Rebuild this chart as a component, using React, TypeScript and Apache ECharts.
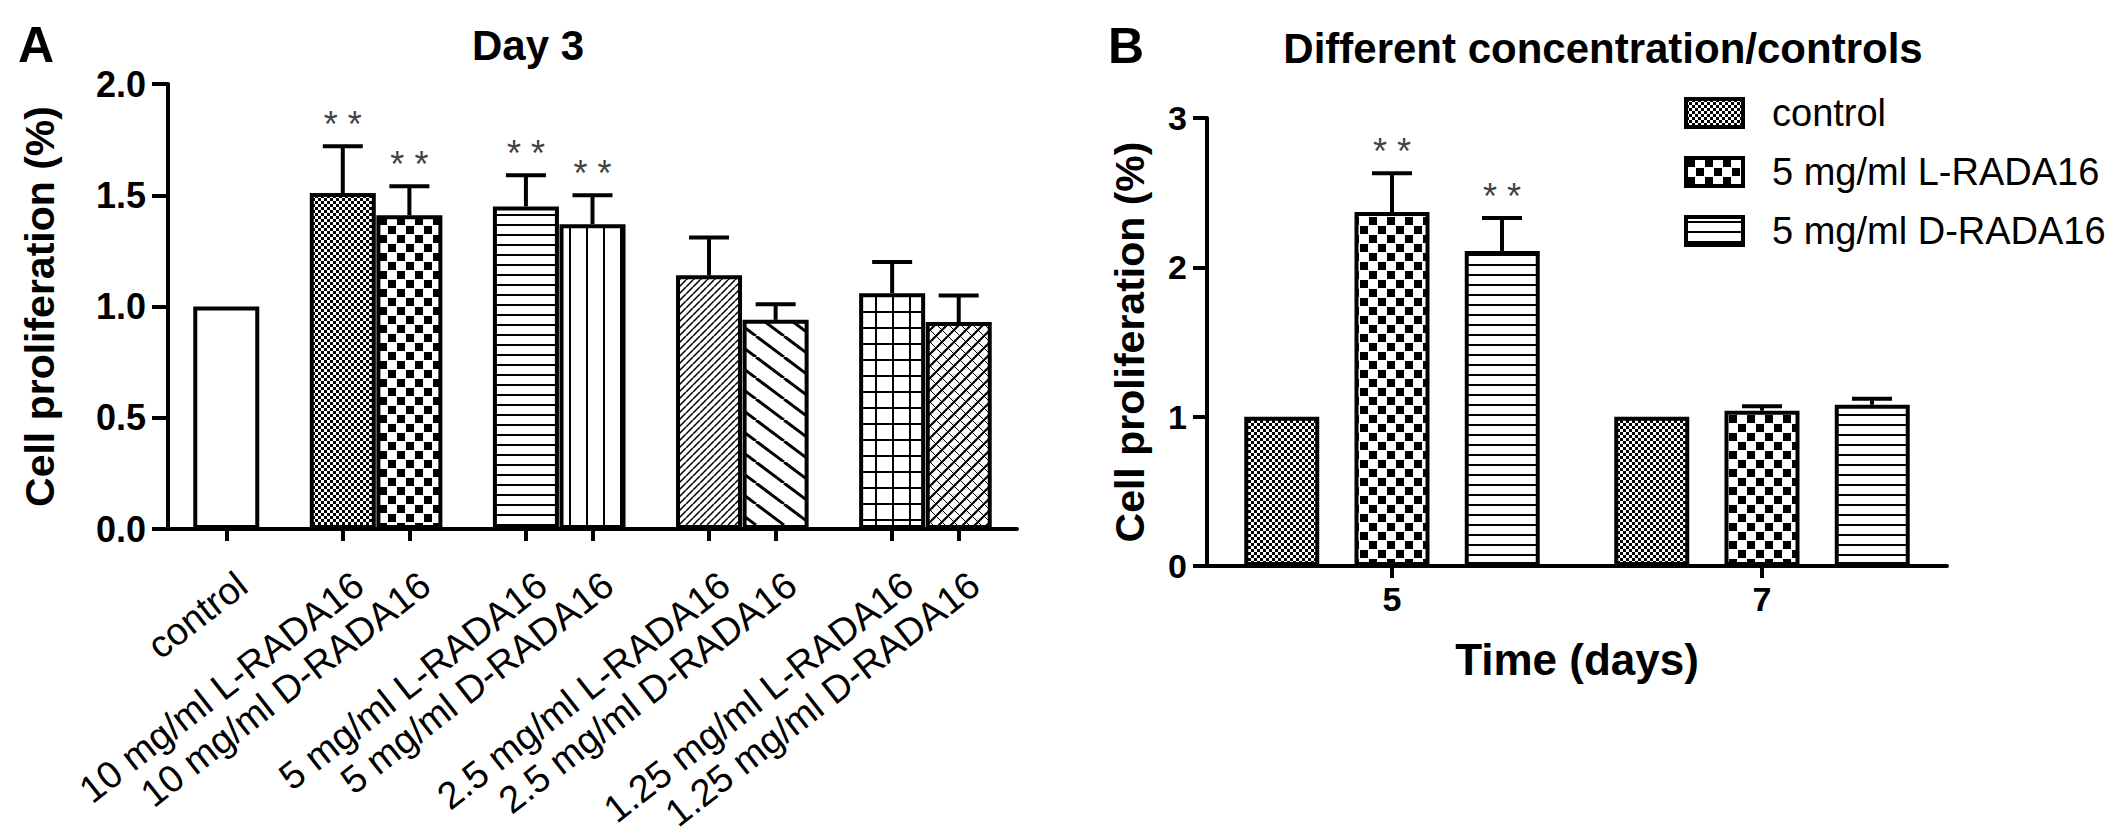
import { useEffect, useRef } from 'react'
import * as echarts from 'echarts'

const FONT = 'Liberation Sans, Arial, Helvetica, sans-serif'

// panel A, day 3
const categoriesA = [
  'control',
  '10 mg/ml L-RADA16',
  '10 mg/ml D-RADA16',
  '5 mg/ml L-RADA16',
  '5 mg/ml D-RADA16',
  '2.5 mg/ml L-RADA16',
  '2.5 mg/ml D-RADA16',
  '1.25 mg/ml L-RADA16',
  '1.25 mg/ml D-RADA16',
]
const meansA = [1.0, 1.51, 1.41, 1.45, 1.37, 1.14, 0.94, 1.06, 0.93]
const errA = [0, 0.21, 0.13, 0.14, 0.13, 0.17, 0.07, 0.14, 0.12]
const sigA = [false, true, true, true, true, false, false, false, false]

// panel B, days 5 and 7
const daysB = ['5', '7']
const namesB = ['control', '5 mg/ml L-RADA16', '5 mg/ml D-RADA16']
const controlB = [1.0, 1.0]
const lradaB = [2.37, 1.04]
const dradaB = [2.11, 1.08]
const errControlB = [0, 0]
const errLradaB = [0.26, 0.03]
const errDradaB = [0.22, 0.04]
const sigControlB = [false, false]
const sigLradaB = [true, false]
const sigDradaB = [true, false]

// layout of panel A: bar slots in bar widths (pairs touch, gap between groups)
const slotA = [0, 1.75, 2.75, 4.5, 5.5, 7.25, 8.25, 10, 11]
const LABEL_SHIFT = 0.24
const CAP = 40
const STAR_GAP = 22

function tile(w: number, h: number, draw: (c: CanvasRenderingContext2D) => void) {
  const cv = document.createElement('canvas')
  cv.width = w
  cv.height = h
  const c = cv.getContext('2d')!
  c.fillStyle = '#fff'
  c.fillRect(0, 0, w, h)
  c.fillStyle = '#000'
  c.strokeStyle = '#000'
  draw(c)
  return { image: cv, repeat: 'repeat', imageWidth: w, imageHeight: h }
}

function makePatterns() {
  const fine = tile(6, 6, (c) => {
    c.fillRect(0, 0, 3, 3)
    c.fillRect(3, 3, 3, 3)
  })
  const checker = tile(18, 18, (c) => {
    c.fillRect(1, 1, 8, 8)
    c.fillRect(10, 10, 8, 8)
  })
  const hlines = tile(10, 10, (c) => c.fillRect(0, 4, 10, 2))
  const vlines = tile(17, 10, (c) => c.fillRect(8, 0, 2, 10))
  const fineDiag = tile(7, 7, (c) => {
    c.lineWidth = 1.5
    c.beginPath()
    for (const dx of [-7, 0, 7]) {
      c.moveTo(dx, 7)
      c.lineTo(dx + 7, 0)
    }
    c.stroke()
  })
  const coarseDiag = tile(28, 21, (c) => {
    c.lineWidth = 3
    c.beginPath()
    for (const dx of [-28, 0, 28]) {
      c.moveTo(dx, 0)
      c.lineTo(dx + 28, 21)
    }
    c.stroke()
  })
  const grid = tile(17, 16, (c) => {
    c.fillRect(8, 0, 2, 16)
    c.fillRect(0, 7, 17, 2)
  })
  const weave = tile(12, 12, (c) => {
    c.lineWidth = 2.2
    c.beginPath()
    for (const dx of [-12, 0, 12]) {
      c.moveTo(dx, 12)
      c.lineTo(dx + 12, 0)
    }
    c.stroke()
    c.lineWidth = 1
    c.beginPath()
    for (const dx of [-12, 0, 12]) {
      c.moveTo(dx, 0)
      c.lineTo(dx + 12, 12)
    }
    c.stroke()
  })
  return { fine, checker, hlines, vlines, fineDiag, coarseDiag, grid, weave }
}

const errorRender = (offset: number) => (_params: any, api: any) => {
  const x = api.value(0)
  const m = api.value(1)
  const e = api.value(2)
  const s = api.value(3)
  const base = api.coord([x, m])
  const top = api.coord([x, m + e])
  const cx = base[0] + offset
  const kids: any[] = []
  if (e > 0) {
    kids.push({
      type: 'line',
      shape: { x1: cx, y1: base[1], x2: cx, y2: top[1] },
      style: { stroke: '#000', lineWidth: 4 },
    })
    kids.push({
      type: 'line',
      shape: { x1: cx - CAP / 2, y1: top[1], x2: cx + CAP / 2, y2: top[1] },
      style: { stroke: '#000', lineWidth: 4 },
    })
  }
  if (s) {
    kids.push({
      type: 'text',
      x: cx,
      y: top[1] - STAR_GAP,
      style: {
        text: '* *',
        fill: '#444',
        fontSize: 36,
        fontFamily: FONT,
        align: 'center',
        verticalAlign: 'middle',
      },
    })
  }
  return { type: 'group', children: kids }
}

export default function App() {
  const chartRef = useRef<HTMLDivElement>(null)

  useEffect(() => {
    if (!chartRef.current) return
    const chart = echarts.init(chartRef.current, undefined, { renderer: 'svg' })
    const P = makePatterns()
    const fillsA = ['#fff', P.fine, P.checker, P.hlines, P.vlines, P.fineDiag, P.coarseDiag, P.grid, P.weave]
    const fillsB = [P.fine, P.checker, P.hlines]

    const axisLine = { show: true, onZero: false, lineStyle: { color: '#000', width: 4 } }
    const tickStyle = { color: '#000', width: 4 }
    const boldName = { fontSize: 41, fontWeight: 'bold', fontFamily: FONT, color: '#000' }

    const valuesB = [controlB, lradaB, dradaB]
    const errsB = [errControlB, errLradaB, errDradaB]
    const sigsB = [sigControlB, sigLradaB, sigDradaB]

    chart.setOption({
      animation: false,
      backgroundColor: '#fff',
      textStyle: { fontFamily: FONT },
      grid: [
        { left: 168, top: 84, width: 849, height: 445 },
        { left: 1207, top: 118, width: 740, height: 448 },
      ],
      graphic: [
        { type: 'text', x: 36, y: 45, style: { text: 'A', fontSize: 50, fontWeight: 'bold', fontFamily: FONT, fill: '#000', align: 'center', verticalAlign: 'middle' } },
        { type: 'text', x: 1126, y: 46, style: { text: 'B', fontSize: 50, fontWeight: 'bold', fontFamily: FONT, fill: '#000', align: 'center', verticalAlign: 'middle' } },
        { type: 'text', x: 528, y: 45, style: { text: 'Day 3', fontSize: 42, fontWeight: 'bold', fontFamily: FONT, fill: '#000', align: 'center', verticalAlign: 'middle' } },
        { type: 'text', x: 1603, y: 48, style: { text: 'Different concentration/controls', fontSize: 42, fontWeight: 'bold', fontFamily: FONT, fill: '#000', align: 'center', verticalAlign: 'middle' } },
      ],
      legend: {
        data: namesB,
        orient: 'vertical',
        left: 1684,
        top: 94,
        padding: 0,
        icon: 'rect',
        itemWidth: 57,
        itemHeight: 28,
        itemGap: 21,
        selectedMode: false,
        itemStyle: { borderColor: '#000', borderWidth: 4 },
        textStyle: { fontSize: 38, fontFamily: FONT, color: '#000', lineHeight: 30, padding: [0, 0, 0, 24] },
      },
      xAxis: [
        {
          type: 'value',
          gridIndex: 0,
          min: -0.875,
          max: 11.875,
          axisLine,
          splitLine: { show: false },
          axisTick: { show: true, customValues: slotA, length: 12, lineStyle: tickStyle },
          axisLabel: {
            customValues: slotA.map((s) => s + LABEL_SHIFT),
            rotate: 38,
            margin: 51,
            fontSize: 38,
            fontFamily: FONT,
            color: '#000',
            formatter: (v: number) => {
              const i = slotA.findIndex((s) => Math.abs(s + LABEL_SHIFT - v) < 0.01)
              return i >= 0 ? categoriesA[i] : ''
            },
          },
        },
        {
          type: 'category',
          gridIndex: 1,
          data: daysB,
          axisLine,
          axisTick: { show: true, alignWithLabel: true, length: 12, lineStyle: tickStyle },
          axisLabel: { margin: 16, fontSize: 34, fontWeight: 'bold', fontFamily: FONT, color: '#000' },
          name: 'Time (days)',
          nameLocation: 'middle',
          nameGap: 71,
          nameTextStyle: { ...boldName, fontSize: 44 },
        },
      ],
      yAxis: [
        {
          type: 'value',
          gridIndex: 0,
          min: 0,
          max: 2,
          interval: 0.5,
          axisLine,
          splitLine: { show: false },
          axisTick: { show: true, length: 16, lineStyle: tickStyle },
          axisLabel: {
            margin: 22,
            fontSize: 36,
            fontWeight: 'bold',
            fontFamily: FONT,
            color: '#000',
            formatter: (v: number) => v.toFixed(1),
          },
          name: 'Cell proliferation (%)',
          nameLocation: 'middle',
          nameGap: 108,
          nameTextStyle: boldName,
        },
        {
          type: 'value',
          gridIndex: 1,
          min: 0,
          max: 3,
          interval: 1,
          axisLine,
          splitLine: { show: false },
          axisTick: { show: true, length: 14, lineStyle: tickStyle },
          axisLabel: { margin: 20, fontSize: 34, fontWeight: 'bold', fontFamily: FONT, color: '#000' },
          name: 'Cell proliferation (%)',
          nameLocation: 'middle',
          nameGap: 57,
          nameTextStyle: boldName,
        },
      ],
      series: [
        {
          type: 'bar',
          xAxisIndex: 0,
          yAxisIndex: 0,
          barWidth: 66,
          itemStyle: { borderColor: '#000', borderWidth: 4 },
          data: slotA.map((s, i) => ({ value: [s, meansA[i]], itemStyle: { color: fillsA[i] } })),
        },
        {
          type: 'custom',
          xAxisIndex: 0,
          yAxisIndex: 0,
          renderItem: errorRender(0),
          encode: { x: 0, y: 1 },
          data: slotA.map((s, i) => [s, meansA[i], errA[i], sigA[i] ? 1 : 0]),
          z: 3,
        },
        ...namesB.map((name, k) => ({
          name,
          type: 'bar',
          xAxisIndex: 1,
          yAxisIndex: 1,
          barWidth: 75,
          barGap: '47%',
          itemStyle: { color: fillsB[k], borderColor: '#000', borderWidth: 4 },
          data: valuesB[k],
        })),
        ...namesB.map((_name, k) => ({
          type: 'custom',
          xAxisIndex: 1,
          yAxisIndex: 1,
          renderItem: errorRender((k - 1) * 110),
          encode: { x: 0, y: 1 },
          data: daysB.map((_d, j) => [j, valuesB[k][j], errsB[k][j], sigsB[k][j] ? 1 : 0]),
          z: 3,
        })),
      ],
    })

    return () => {
      chart.dispose()
    }
  }, [])

  return (
    <div
      ref={chartRef}
      style={{ position: 'fixed', left: 0, top: 0, width: '2126px', height: '835px', background: '#fff' }}
    ></div>
  )
}
